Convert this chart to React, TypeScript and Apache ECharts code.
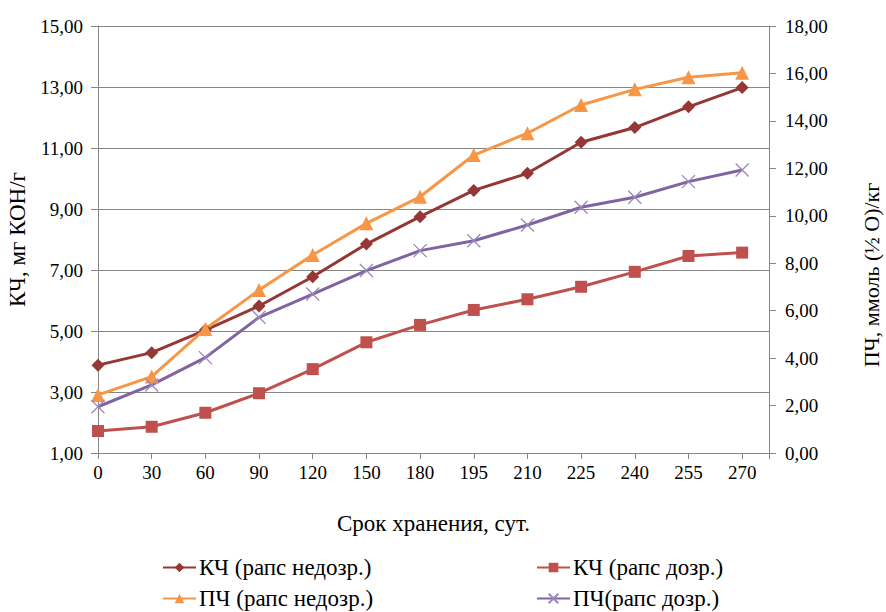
import React, { useEffect, useRef } from "react";
import * as echarts from "echarts";

const categories = ["0", "30", "60", "90", "120", "150", "180", "195", "210", "225", "240", "255", "270"];
const kchUnripe = [3.88, 4.29, 5.03, 5.82, 6.78, 7.85, 8.75, 9.61, 10.17, 11.19, 11.67, 12.35, 12.98];
const kchRipe = [1.72, 1.86, 2.32, 2.96, 3.75, 4.63, 5.2, 5.69, 6.04, 6.45, 6.94, 7.46, 7.57];
const pchUnripe = [2.45, 3.22, 5.23, 6.87, 8.35, 9.68, 10.8, 12.56, 13.48, 14.67, 15.33, 15.84, 16.03];
const pchRipe = [1.95, 2.87, 4.02, 5.72, 6.7, 7.69, 8.53, 8.95, 9.61, 10.36, 10.78, 11.44, 11.93];
const leftTicks = { min: 1, max: 15, step: 2 };
const rightTicks = { min: 0, max: 18, step: 2 };
const names = ["КЧ (рапс недозр.)", "КЧ (рапс дозр.)", "ПЧ (рапс недозр.)", "ПЧ(рапс дозр.)"];

const FONT = "'Liberation Serif', 'DejaVu Serif', serif";
const GREY = "#868686";
const fmt = (v: number) => v.toFixed(2).replace(".", ",");

export default function App() {
  const ref = useRef<HTMLDivElement>(null);
  useEffect(() => {
    if (!ref.current) return;
    const chart = echarts.init(ref.current, null, { renderer: "svg" });
    const off = leftTicks.min;
    const toPts = (arr: number[], shift = 0) => arr.map((v, i) => [i, v - shift]);
    const tickText = { fontFamily: FONT, fontSize: 19, color: "#000" };
    const bigText = { fontFamily: FONT, fontSize: 23, color: "#000" };
    const legendPos = [
      { left: 162, top: 556 },
      { left: 536, top: 556 },
      { left: 162, top: 587 },
      { left: 536, top: 587 },
    ];
    chart.setOption({
      animation: false,
      textStyle: { fontFamily: FONT },
      grid: { left: 98, right: 117, top: 26, bottom: 159, outerBoundsMode: "none" },
      legend: names.map((n, i) => ({
        data: [n],
        ...legendPos[i],
        padding: 0,
        itemWidth: 33,
        itemHeight: 12,
        itemGap: 2,
        textStyle: { ...bigText, padding: [0, 0, 0, -2] },
      })),
      xAxis: {
        type: "value",
        min: 0,
        max: categories.length - 0.5,
        interval: 1,
        name: "Срок хранения, сут.",
        nameLocation: "middle",
        nameGap: 59,
        nameTextStyle: bigText,
        axisLine: { lineStyle: { color: GREY } },
        axisTick: { show: true, length: 6, lineStyle: { color: GREY } },
        axisLabel: {
          ...tickText,
          margin: 10,
          formatter: (v: number) => (Number.isInteger(v) ? categories[v] ?? "" : ""),
        },
        splitLine: { show: false },
      },
      yAxis: [
        {
          type: "value",
          min: leftTicks.min - off,
          max: leftTicks.max - off,
          interval: leftTicks.step,
          name: "КЧ, мг КОН/г",
          nameLocation: "middle",
          nameGap: 63,
          nameTextStyle: bigText,
          axisLine: { show: true, lineStyle: { color: GREY } },
          axisTick: { show: true, length: 7, lineStyle: { color: GREY } },
          axisLabel: { ...tickText, margin: 15, formatter: (v: number) => fmt(v + off) },
          splitLine: { show: true, lineStyle: { color: GREY, width: 1 } },
        },
        {
          type: "value",
          min: rightTicks.min,
          max: rightTicks.max,
          interval: rightTicks.step,
          position: "right",
          axisLine: { show: true, lineStyle: { color: GREY } },
          axisTick: { show: true, length: 7, lineStyle: { color: GREY } },
          axisLabel: { ...tickText, margin: 16, formatter: (v: number) => fmt(v) },
          splitLine: { show: false },
        },
      ],
      graphic: [
        {
          type: "text",
          x: 871,
          y: 275,
          rotation: Math.PI / 2,
          style: {
            text: "ПЧ, ммоль (½ О)/кг",
            fontFamily: FONT,
            fontSize: 22,
            fill: "#000",
            align: "center",
            verticalAlign: "middle",
          },
        },
      ],
      series: [
        {
          name: names[0],
          type: "line",
          yAxisIndex: 0,
          data: toPts(kchUnripe, off),
          color: "#953735",
          symbol: "diamond",
          symbolSize: 13,
          lineStyle: { width: 3 },
        },
        {
          name: names[1],
          type: "line",
          yAxisIndex: 0,
          data: toPts(kchRipe, off),
          color: "#C0504D",
          symbol: "rect",
          symbolSize: 12,
          lineStyle: { width: 3 },
        },
        {
          name: names[2],
          type: "line",
          yAxisIndex: 1,
          data: toPts(pchUnripe),
          color: "#F79646",
          symbol: "triangle",
          symbolSize: 14,
          lineStyle: { width: 3 },
        },
        {
          name: names[3],
          type: "line",
          yAxisIndex: 1,
          data: toPts(pchRipe),
          color: "#8064A2",
          symbol: "path://M0,0L10,10M10,0L0,10",
          symbolSize: 13,
          itemStyle: { color: "#8064A2", borderColor: "#9c87bb", borderWidth: 1.3 },
          lineStyle: { width: 3, color: "#8064A2" },
        },
      ],
    });
    return () => chart.dispose();
  }, []);
  return (
    <div
      ref={ref}
      style={{ position: "fixed", left: 0, top: 0, width: 886, height: 612, background: "#fff" }}
    />
  );
}
